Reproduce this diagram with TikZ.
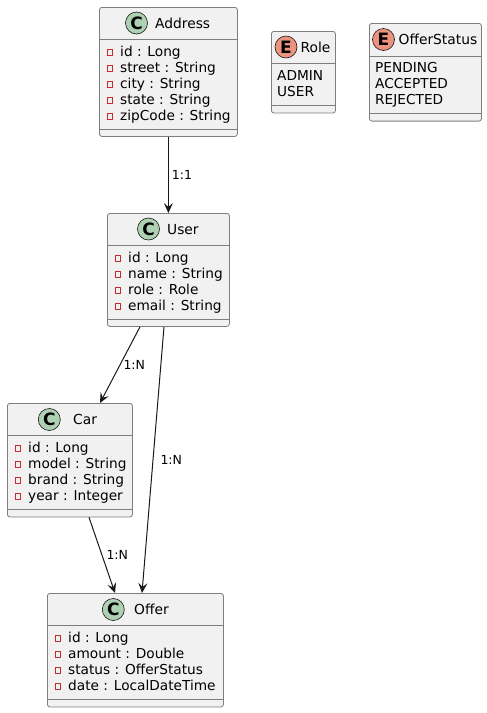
\documentclass[tikz,border=0pt]{standalone}
\usepackage{fontspec}
\setmainfont{DejaVu Sans}
\usepackage{xcolor}
\usepackage{tikz}
\usetikzlibrary{arrows.meta}
\definecolor{boxfill}{HTML}{F1F1F1}
\definecolor{boxline}{HTML}{7E7E7E}
\definecolor{arrowline}{HTML}{181818}
\definecolor{classbadge}{HTML}{ADD1B2}
\definecolor{enumbadge}{HTML}{EB937F}
\definecolor{privred}{HTML}{C82930}

\begin{document}
\begin{tikzpicture}[x=1pt, y=-1pt,
  umlbox/.style={draw=boxline, fill=boxfill, line width=0.8pt, rounded corners=2.5pt, anchor=north west, inner sep=0pt},
  divider/.style={draw=boxline, line width=0.8pt},
  badge/.style={circle, draw=arrowline, line width=0.6pt, minimum size=22pt, inner sep=0pt, font=\fontsize{17}{17}\selectfont\bfseries},
  cbadge/.style={badge, fill=classbadge},
  ebadge/.style={badge, fill=enumbadge},
  headname/.style={anchor=base west, inner sep=0pt, font=\fontsize{13.8}{16}\selectfont},
  attr/.style={anchor=base west, inner sep=0pt, font=\fontsize{13.7}{16}\selectfont},
  priv/.style={draw=privred, line width=0.6pt, minimum size=5.5pt, inner sep=0pt},
  assoc/.style={draw=arrowline, line width=1pt, -{Stealth[length=10pt, width=9pt, inset=4pt]}},
  lbl/.style={font=\fontsize{12.5}{13}\selectfont, inner sep=0pt}]
\useasboundingbox (0,0) rectangle (487,713);
% Address
\node[umlbox, minimum width=138pt, minimum height=129pt] (address) at (99,7) {};
\node[cbadge] (address-c) at (136.5,23) {C};
\node[headname] (address-n) at (155,28) {Address};
\draw[divider] (99,39.5) -- (237,39.5);
\draw[divider] (99,129.5) -- (237,129.5);
\foreach \a [count=\i] in {id : Long, street : String, city : String, state : String, zipCode : String} {
  \node[priv] (address-v\i) at (110,{36+16.1*\i}) {};
  \node[attr] (address-a\i) at (120,{40.4+16.1*\i}) {\a};
}
% Role
\node[umlbox, minimum width=64pt, minimum height=81.6pt] (role) at (271,31) {};
\node[ebadge] (role-e) at (286,47) {E};
\node[headname] (role-n) at (300.5,52) {Role};
\draw[divider] (271,63.5) -- (335,63.5);
\draw[divider] (271,105.6) -- (335,105.6);
\foreach \a [count=\i] in {ADMIN, USER}
  \node[attr] (role-a\i) at (277,{64.4+16.1*\i}) {\a};
% OfferStatus
\node[umlbox, minimum width=112pt, minimum height=97.7pt] (offerstatus) at (369,23) {};
\node[ebadge] (offerstatus-e) at (383.5,39.5) {E};
\node[headname] (offerstatus-n) at (398.5,44.5) {OfferStatus};
\draw[divider] (369,56.5) -- (481,56.5);
\draw[divider] (369,113.7) -- (481,113.7);
\foreach \a [count=\i] in {PENDING, ACCEPTED, REJECTED}
  \node[attr] (offerstatus-a\i) at (375,{56.4+16.1*\i}) {\a};
% User
\node[umlbox, minimum width=122pt, minimum height=113pt] (user) at (107,213) {};
\node[cbadge] (user-c) at (148.5,229) {C};
\node[headname] (user-n) at (167,234) {User};
\draw[divider] (107,245.5) -- (229,245.5);
\draw[divider] (107,319) -- (229,319);
\foreach \a [count=\i] in {id : Long, name : String, role : Role, email : String} {
  \node[priv] (user-v\i) at (118,{242+16.1*\i}) {};
  \node[attr] (user-a\i) at (128,{246.4+16.1*\i}) {\a};
}
% Car
\node[umlbox, minimum width=125pt, minimum height=113.5pt] (car) at (7,403) {};
\node[cbadge] (car-c) at (49.3,419.5) {C};
\node[headname] (car-n) at (73,424.5) {Car};
\draw[divider] (7,435.5) -- (132,435.5);
\draw[divider] (7,509.3) -- (132,509.3);
\foreach \a [count=\i] in {id : Long, model : String, brand : String, year : Integer} {
  \node[priv] (car-v\i) at (18,{432+16.1*\i}) {};
  \node[attr] (car-a\i) at (28,{436.4+16.1*\i}) {\a};
}
% Offer
\node[umlbox, minimum width=176pt, minimum height=113.5pt] (offer) at (47,593) {};
\node[cbadge] (offer-c) at (113.3,609.5) {C};
\node[headname] (offer-n) at (134,614.5) {Offer};
\draw[divider] (47,625.5) -- (223,625.5);
\draw[divider] (47,699.3) -- (223,699.3);
\foreach \a [count=\i] in {id : Long, amount : Double, status : OfferStatus, date : LocalDateTime} {
  \node[priv] (offer-v\i) at (58,{622+16.1*\i}) {};
  \node[attr] (offer-a\i) at (68,{626.4+16.1*\i}) {\a};
}
% associations
\draw[assoc] (address.south) -- node[lbl, right=3pt] (l-au) {1:1} (user.north);
\draw[assoc] ([xshift=33pt]user.south west) -- node[lbl, right=3pt] (l-uc) {1:N} ([xshift=93pt]car.north west);
\draw[assoc] ([xshift=57pt]user.south west) -- node[lbl, right=7pt] (l-uo) {1:N} ([xshift=95pt]offer.north west);
\draw[assoc] ([xshift=82pt]car.south west) -- node[lbl, right=4pt] (l-co) {1:N} ([xshift=68pt]offer.north west);
\end{tikzpicture}
\end{document}
